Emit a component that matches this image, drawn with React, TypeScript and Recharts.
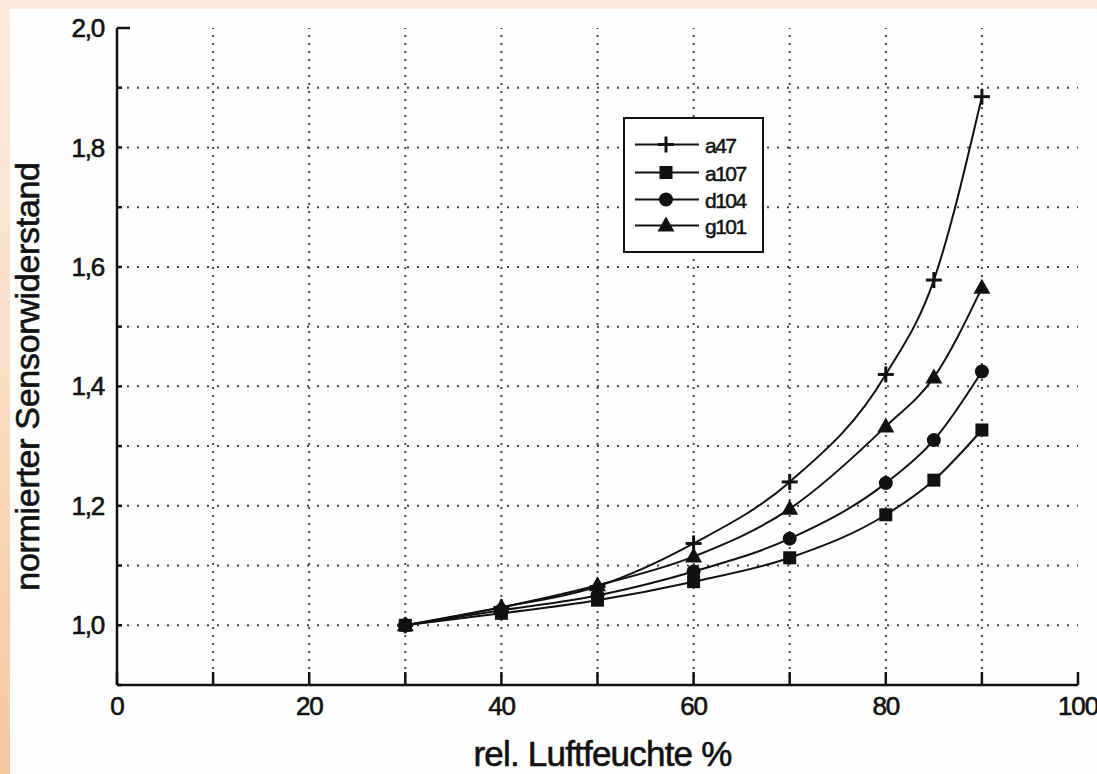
import React from 'react';
import { LineChart, Line, XAxis, YAxis, ReferenceLine } from 'recharts';

const humidity = [30, 40, 50, 60, 70, 80, 85, 90];
const a47 = [1.0, 1.03, 1.065, 1.137, 1.24, 1.42, 1.578, 1.885];
const a107 = [1.0, 1.02, 1.042, 1.073, 1.113, 1.185, 1.243, 1.327];
const d104 = [1.0, 1.025, 1.05, 1.09, 1.145, 1.238, 1.31, 1.425];
const g101 = [1.0, 1.03, 1.067, 1.115, 1.195, 1.333, 1.415, 1.565];

const seriesNames = ['a47', 'a107', 'd104', 'g101'];
const seriesShapes = ['plus', 'square', 'circle', 'triangle'];

const xTicks = [0, 10, 20, 30, 40, 50, 60, 70, 80, 90, 100];
const yTicks = [0.9, 1.0, 1.1, 1.2, 1.3, 1.4, 1.5, 1.6, 1.7, 1.8, 1.9, 2.0];
const xGrid = [10, 20, 30, 40, 50, 60, 70, 80, 90];
const yGrid = [1.0, 1.1, 1.2, 1.3, 1.4, 1.5, 1.6, 1.7, 1.8, 1.9];

const xLabel = 'rel. Luftfeuchte %';
const yLabel = 'normierter Sensorwiderstand';

const data = humidity.map((h, i) => ({
  x: h,
  a47: a47[i],
  a107: a107[i],
  d104: d104[i],
  g101: g101[i],
}));

const FONT = '"Liberation Sans", Arial, Helvetica, sans-serif';
const INK = '#111';

function Marker({ shape, cx, cy }: { shape: string; cx: number; cy: number }) {
  if (cx == null || cy == null) return null;
  if (shape === 'plus') {
    return (
      <g>
        <line x1={cx - 8} y1={cy} x2={cx + 8} y2={cy} stroke={INK} strokeWidth={3} />
        <line x1={cx} y1={cy - 8} x2={cx} y2={cy + 8} stroke={INK} strokeWidth={3} />
      </g>
    );
  }
  if (shape === 'square') {
    return <rect x={cx - 6.5} y={cy - 6.5} width={13} height={13} fill={INK} />;
  }
  if (shape === 'circle') {
    return <circle cx={cx} cy={cy} r={7} fill={INK} />;
  }
  return (
    <polygon
      points={`${cx},${cy - 9} ${cx - 8.5},${cy + 6} ${cx + 8.5},${cy + 6}`}
      fill={INK}
    />
  );
}

const fmtY = (v: number) => {
  const t = Math.round(v * 10);
  return t % 2 === 0 && t >= 10 ? (t / 10).toFixed(1).replace('.', ',') : '';
};
const fmtX = (v: number) => (Math.round(v) % 20 === 0 ? String(v) : '');

const XTick = (props: any) => {
  const { x, y, payload } = props;
  const label = fmtX(payload.value);
  return (
    <g>
      <line x1={x} y1={y} x2={x} y2={y - 13} stroke={INK} strokeWidth={2.5} />
      {label && (
        <text
          x={x}
          y={y + 30}
          textAnchor="middle"
          fontFamily={FONT}
          fontSize={26}
          letterSpacing={-1.2}
          fill={INK}
          stroke={INK}
          strokeWidth={0.6}
        >
          {label}
        </text>
      )}
    </g>
  );
};

const YTick = (props: any) => {
  const { x, y, payload } = props;
  const label = fmtY(payload.value);
  const isTop = Math.round(payload.value * 10) === 20;
  return (
    <g>
      <line x1={x} y1={y} x2={x + (isTop ? 13 : 5)} y2={y} stroke={INK} strokeWidth={2.5} />
      {label && (
        <text
          x={x - 13}
          y={y}
          dy="0.35em"
          textAnchor="end"
          fontFamily={FONT}
          fontSize={26}
          letterSpacing={-1.2}
          fill={INK}
          stroke={INK}
          strokeWidth={0.6}
        >
          {label}
        </text>
      )}
    </g>
  );
};

const LegendBox = () => {
  const rowY = [28, 56, 83, 109];
  return (
    <div
      style={{
        position: 'absolute',
        left: 623,
        top: 117,
        width: 141,
        height: 136,
        boxSizing: 'border-box',
        border: `2.5px solid ${INK}`,
        background: '#fff',
      }}
    >
      <svg width={136} height={131} style={{ display: 'block' }}>
        {seriesNames.map((name, i) => (
          <g key={name}>
            <line x1={10} y1={rowY[i] - 2.5} x2={74} y2={rowY[i] - 2.5} stroke={INK} strokeWidth={2} />
            <Marker shape={seriesShapes[i]} cx={41} cy={rowY[i] - 2.5} />
            <text
              x={80}
              y={rowY[i]}
              dy="0.3em"
              fontFamily={FONT}
              fontSize={21}
              letterSpacing={-1.5}
              fill={INK}
              stroke={INK}
              strokeWidth={0.5}
            >
              {name}
            </text>
          </g>
        ))}
      </svg>
    </div>
  );
};

export default function App() {
  return (
    <div
      style={{
        position: 'absolute',
        left: 0,
        top: 0,
        width: 1097,
        height: 774,
        overflow: 'hidden',
        background: 'linear-gradient(180deg, #fcebdc 0%, #fadcc3 50%, #f7c7a0 100%)',
      }}
    >
      <div
        style={{
          position: 'absolute',
          left: 10,
          top: 9,
          right: 0,
          bottom: 0,
          background: '#fefefe',
        }}
      />
      <div style={{ position: 'absolute', left: 0, top: 0 }}>
        <LineChart
          width={1097}
          height={774}
          data={data}
          margin={{ top: 28, right: 19, left: 0, bottom: 0 }}
        >
          <XAxis
            type="number"
            dataKey="x"
            domain={[0, 100]}
            ticks={xTicks}
            interval={0}
            height={89}
            tickSize={0}
            tickMargin={0}
            tickLine={false}
            axisLine={{ stroke: INK, strokeWidth: 2.5 }}
            tick={<XTick />}
            label={{
              content: (p: any) => {
                const vb = p.viewBox || { x: 117, y: 685, width: 961, height: 89 };
                return (
                  <text
                    x={vb.x + vb.width / 2 + 5}
                    y={vb.y + 81}
                    textAnchor="middle"
                    fontFamily={FONT}
                    fontSize={35}
                    letterSpacing={-0.8}
                    fill={INK}
                    stroke={INK}
                    strokeWidth={0.6}
                  >
                    {xLabel}
                  </text>
                );
              },
            }}
          />
          <YAxis
            type="number"
            domain={[0.9, 2.0]}
            ticks={yTicks}
            interval={0}
            width={117}
            tickSize={0}
            tickMargin={0}
            tickLine={false}
            axisLine={{ stroke: INK, strokeWidth: 2.5 }}
            tick={<YTick />}
            label={{
              content: (p: any) => {
                const vb = p.viewBox || { x: 0, y: 28, width: 117, height: 657 };
                const cx = vb.x + 27;
                const cy = vb.y + vb.height / 2 + 20;
                return (
                  <text
                    x={cx}
                    y={cy}
                    transform={`rotate(-90 ${cx} ${cy})`}
                    textAnchor="middle"
                    dy="0.35em"
                    fontFamily={FONT}
                    fontSize={34}
                    letterSpacing={-0.3}
                    fill={INK}
                    stroke={INK}
                    strokeWidth={0.6}
                  >
                    {yLabel}
                  </text>
                );
              },
            }}
          />
          {yGrid.map((v) => (
            <ReferenceLine
              key={`h${v}`}
              y={v}
              stroke="#444"
              strokeWidth={2}
              strokeDasharray="2 8"
            />
          ))}
          {xGrid.map((v) => (
            <ReferenceLine
              key={`v${v}`}
              x={v}
              stroke="#444"
              strokeWidth={2}
              strokeDasharray="2 6"
            />
          ))}
          {seriesNames.map((name, i) => (
            <Line
              key={name}
              type="monotone"
              dataKey={name}
              stroke={INK}
              strokeWidth={2}
              isAnimationActive={false}
              dot={(p: any) => (
                <Marker key={`${name}-${p.index}`} shape={seriesShapes[i]} cx={p.cx} cy={p.cy} />
              )}
              activeDot={false}
            />
          ))}
        </LineChart>
      </div>
      <LegendBox />
    </div>
  );
}
